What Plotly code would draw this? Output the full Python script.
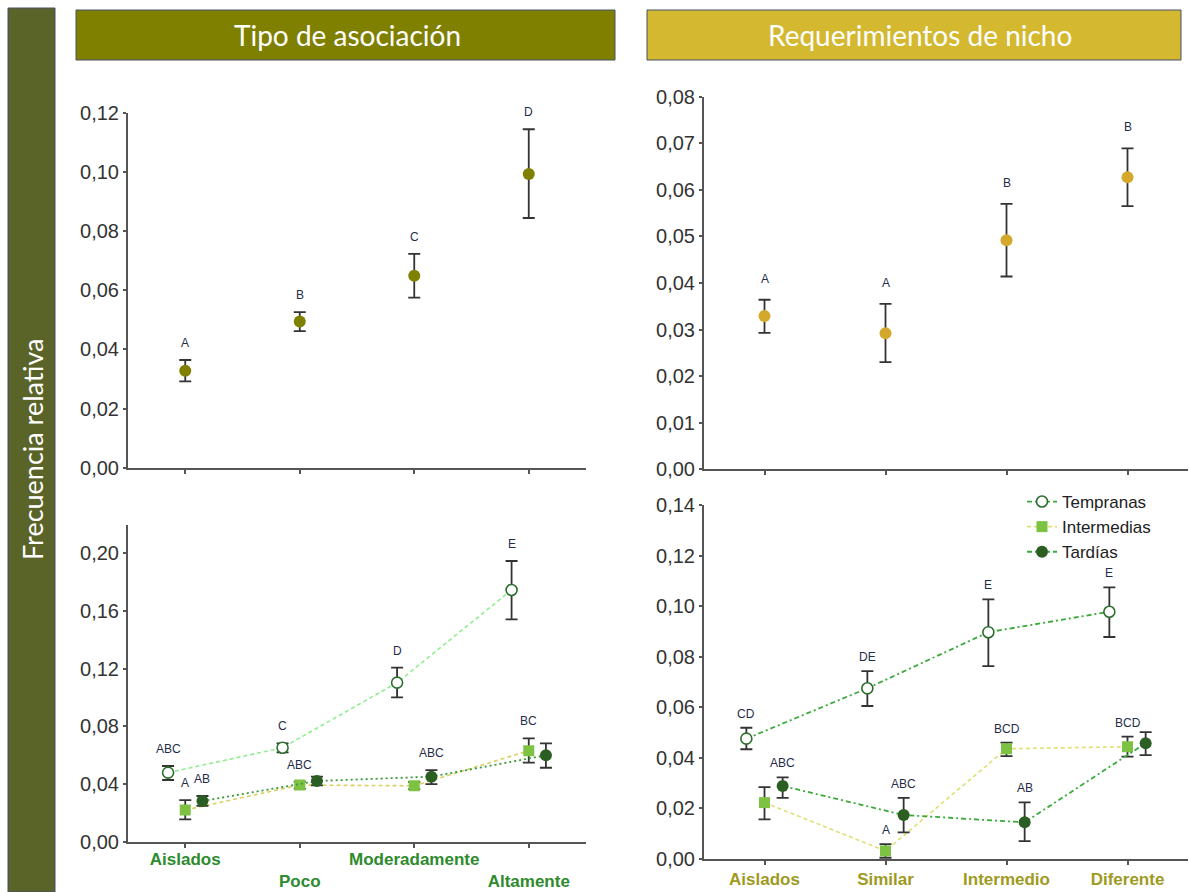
import plotly.graph_objects as go

# ---------------- data ----------------
cat_asoc = ["Aislados", "Poco", "Moderadamente", "Altamente"]
cat_nicho = ["Aislados", "Similar", "Intermedio", "Diferente"]
series_names = ["Tempranas", "Intermedias", "Tardías"]

# Top-left: Tipo de asociación
asoc_mean = [0.0328, 0.0494, 0.0649, 0.0993]
asoc_hi = [0.0364, 0.0526, 0.0723, 0.1144]
asoc_lo = [0.0292, 0.0462, 0.0575, 0.0844]
asoc_letters = ["A", "B", "C", "D"]

# Top-right: Requerimientos de nicho
nicho_mean = [0.0329, 0.0292, 0.0492, 0.0627]
nicho_hi = [0.0364, 0.0355, 0.0570, 0.0689]
nicho_lo = [0.0293, 0.0230, 0.0414, 0.0565]
nicho_letters = ["A", "A", "B", "B"]

# Bottom-left: asociación x periodo
asoc_temp_mean = [0.0479, 0.0652, 0.1103, 0.1746]
asoc_temp_hi = [0.0525, 0.0682, 0.1207, 0.1947]
asoc_temp_lo = [0.0428, 0.0620, 0.1001, 0.1542]
asoc_temp_letters = ["ABC", "C", "D", "E"]

asoc_int_mean = [0.0220, 0.0393, 0.0388, 0.0631]
asoc_int_hi = [0.0289, 0.0416, 0.0414, 0.0717]
asoc_int_lo = [0.0155, 0.0368, 0.0365, 0.0548]
asoc_int_letters = ["A", "ABC", None, "BC"]

asoc_tar_mean = [0.0282, 0.0421, 0.0451, 0.0599]
asoc_tar_hi = [0.0317, 0.0451, 0.0497, 0.0682]
asoc_tar_lo = [0.0248, 0.0391, 0.0400, 0.0513]
asoc_tar_letters = ["AB", None, "ABC", None]

# Bottom-right: nicho x periodo
nicho_temp_mean = [0.0476, 0.0675, 0.0897, 0.0978]
nicho_temp_hi = [0.0519, 0.0743, 0.1027, 0.1074]
nicho_temp_lo = [0.0434, 0.0605, 0.0763, 0.0878]
nicho_temp_letters = ["CD", "DE", "E", "E"]

nicho_int_mean = [0.0223, 0.0032, 0.0436, 0.0444]
nicho_int_hi = [0.0284, 0.0059, 0.0460, 0.0484]
nicho_int_lo = [0.0157, 0.0005, 0.0407, 0.0405]
nicho_int_letters = [None, "A", "BCD", "BCD"]

nicho_tar_mean = [0.0289, 0.0174, 0.0145, 0.0458]
nicho_tar_hi = [0.0323, 0.0242, 0.0224, 0.0502]
nicho_tar_lo = [0.0242, 0.0105, 0.0071, 0.0411]
nicho_tar_letters = ["ABC", "ABC", "AB", None]

# ---------------- style ----------------
W, H = 1189, 892
FONT = "Liberation Sans, Arial, sans-serif"
HEAD_FONT = "Lato, Open Sans, sans-serif"
AXIS_COL = "#555555"
ERR_COL = "#333333"
LETTER_COL = "#1f2d4a"
OFFSETS = [-0.15, 0.0, 0.15]


def px(x):
    return x / W


def py(y):
    return 1 - y / H


fig = go.Figure()
annotations = []


def err(mean, hi, lo):
    return dict(type="data", symmetric=False,
                array=[h - m for h, m in zip(hi, mean)],
                arrayminus=[m - l for m, l in zip(mean, lo)],
                color=ERR_COL, thickness=1.8, width=6)


def add_letters(xs, hi, letters, xa, ya, shift=8):
    for x, h, t in zip(xs, hi, letters):
        if t:
            annotations.append(dict(x=x, y=h, xref=xa, yref=ya, text=t,
                                    showarrow=False, xanchor="center", yanchor="bottom",
                                    yshift=shift,
                                    font=dict(family=FONT, size=12, color=LETTER_COL)))


# Top-left
xs = list(range(len(cat_asoc)))
fig.add_trace(go.Scatter(x=xs, y=asoc_mean, mode="markers", xaxis="x", yaxis="y",
                         marker=dict(color="#7f7f00", size=12), error_y=err(asoc_mean, asoc_hi, asoc_lo),
                         showlegend=False))
add_letters(xs, asoc_hi, asoc_letters, "x", "y")

# Top-right
xs = list(range(len(cat_nicho)))
fig.add_trace(go.Scatter(x=xs, y=nicho_mean, mode="markers", xaxis="x2", yaxis="y2",
                         marker=dict(color="#d4a82a", size=12), error_y=err(nicho_mean, nicho_hi, nicho_lo),
                         showlegend=False))
add_letters(xs, nicho_hi, nicho_letters, "x2", "y2", shift=12)

marker_styles = [
    dict(symbol="circle", color="white", size=11, line=dict(color="#2d6e2d", width=1.6)),
    dict(symbol="square", color="#7dc242", size=11, line=dict(width=0)),
    dict(symbol="circle", color="#2b5e22", size=12, line=dict(width=0)),
]
lines_left = [
    dict(color="#8fef8f", width=1.6, dash="4px,3px"),
    dict(color="#d9d066", width=1.6, dash="4px,3px"),
    dict(color="#3a9a3a", width=1.8, dash="2px,3px"),
]
lines_right = [
    dict(color="#3aaa3a", width=1.8, dash="5px,3px,2px,3px"),
    dict(color="#e0e070", width=1.6, dash="4px,3px"),
    dict(color="#3aaa3a", width=1.8, dash="5px,3px,2px,3px"),
]

left_sets = [
    (asoc_temp_mean, asoc_temp_hi, asoc_temp_lo, asoc_temp_letters),
    (asoc_int_mean, asoc_int_hi, asoc_int_lo, asoc_int_letters),
    (asoc_tar_mean, asoc_tar_hi, asoc_tar_lo, asoc_tar_letters),
]
right_sets = [
    (nicho_temp_mean, nicho_temp_hi, nicho_temp_lo, nicho_temp_letters),
    (nicho_int_mean, nicho_int_hi, nicho_int_lo, nicho_int_letters),
    (nicho_tar_mean, nicho_tar_hi, nicho_tar_lo, nicho_tar_letters),
]

for i, (m, hi, lo, let) in enumerate(left_sets):
    xs = [k + OFFSETS[i] for k in range(len(cat_asoc))]
    fig.add_trace(go.Scatter(x=xs, y=m, mode="lines+markers", xaxis="x3", yaxis="y3",
                             name=series_names[i], line=lines_left[i], marker=marker_styles[i],
                             error_y=err(m, hi, lo), showlegend=False))
    add_letters(xs, hi, let, "x3", "y3")

for i, (m, hi, lo, let) in enumerate(right_sets):
    xs = [k + OFFSETS[i] for k in range(len(cat_nicho))]
    fig.add_trace(go.Scatter(x=xs, y=m, mode="lines+markers", xaxis="x4", yaxis="y4",
                             name=series_names[i], line=lines_right[i], marker=marker_styles[i],
                             error_y=err(m, hi, lo), showlegend=True))
    add_letters(xs, hi, let, "x4", "y4", shift=5)

# ---------------- axes ----------------
xl_dom = [px(128), px(586)]
xr_dom = [px(704), px(1188)]


def xaxis(dom, ytag, labels=None, color="#333", alt=False):
    d = dict(domain=dom, anchor=ytag, range=[-0.5, 3.5], showgrid=False, zeroline=False,
             showline=True, linecolor=AXIS_COL, linewidth=2, ticks="outside", ticklen=4,
             tickcolor=AXIS_COL, tickwidth=1.5, tickvals=[0, 1, 2, 3], fixedrange=True,
             automargin=False)
    if labels is None:
        d["showticklabels"] = False
        d["ticktext"] = ["", "", "", ""]
    else:
        txt = [(" <br>" + t) if (alt and k % 2 == 1) else t for k, t in enumerate(labels)]
        d["ticktext"] = txt
        d["tickfont"] = dict(family=FONT, size=17, color=color, weight="bold")
    return d


def yaxis(dom, xtag, rng, dtick):
    return dict(domain=dom, anchor=xtag, range=rng, showgrid=False, zeroline=False,
                showline=True, linecolor=AXIS_COL, linewidth=2, ticks="outside", ticklen=3,
                tickcolor=AXIS_COL, tickwidth=1.5, dtick=dtick, tick0=0, tickformat=".2f",
                tickfont=dict(family=FONT, size=20, color="#333333"), fixedrange=True,
                automargin=False)


fig.update_layout(
    xaxis=xaxis(xl_dom, "y"),
    yaxis=yaxis([py(467.7), py(112.7)], "x", [0, 0.12], 0.02),
    xaxis2=xaxis(xr_dom, "y2"),
    yaxis2=yaxis([py(469.3), py(96.7)], "x2", [0, 0.08], 0.01),
    xaxis3=xaxis(xl_dom, "y3", cat_asoc, "#2e8b2e", alt=True),
    yaxis3=yaxis([py(841.7), py(524.5)], "x3", [0, 0.22], 0.04),
    xaxis4=xaxis(xr_dom, "y4", cat_nicho, "#9e9a1e"),
    yaxis4=yaxis([py(859), py(505)], "x4", [0, 0.14], 0.02),
)
fig.layout.yaxis3.tickvals = [0, 0.04, 0.08, 0.12, 0.16, 0.20]
fig.layout.xaxis3.ticklabelstandoff = -3

# ---------------- decorations ----------------
shapes = [
    dict(type="rect", xref="paper", yref="paper", x0=px(8), x1=px(55), y0=0, y1=py(8),
         fillcolor="#5a6328", line=dict(color="#46506a", width=1), layer="below"),
    dict(type="rect", xref="paper", yref="paper", x0=px(76), x1=px(615), y0=py(60), y1=py(10),
         fillcolor="#808000", line=dict(color="#46506a", width=1), layer="below"),
    dict(type="rect", xref="paper", yref="paper", x0=px(647), x1=px(1181), y0=py(60), y1=py(10),
         fillcolor="#d3b830", line=dict(color="#46506a", width=1), layer="below"),
]
annotations += [
    dict(x=px(347), y=py(35), xref="paper", yref="paper", text="Tipo de asociación",
         xanchor="center", yanchor="middle",
         showarrow=False, font=dict(family=HEAD_FONT, size=28, color="white")),
    dict(x=px(920), y=py(35), xref="paper", yref="paper", text="Requerimientos de nicho",
         xanchor="center", yanchor="middle",
         showarrow=False, font=dict(family=HEAD_FONT, size=28, color="white")),
    dict(x=px(32), y=py(450), xref="paper", yref="paper", text="Frecuencia relativa",
         xanchor="center", yanchor="middle",
         showarrow=False, textangle=-90, font=dict(family=HEAD_FONT, size=27, color="white")),
]

fig.update_layout(
    width=W, height=H, margin=dict(l=0, r=0, t=0, b=0, pad=0, autoexpand=False),
    paper_bgcolor="white", plot_bgcolor="white",
    separators=",.",
    shapes=shapes, annotations=annotations,
    showlegend=True,
    legend=dict(x=px(1022), y=py(484), xanchor="left", yanchor="top",
                font=dict(family=FONT, size=17, color="#222222"),
                bgcolor="rgba(0,0,0,0)", tracegroupgap=0, itemwidth=30),
    font=dict(family=FONT),
)

fig.write_html("out.html", config={"displayModeBar": False},
               post_script="document.body.style.margin='0';document.body.style.overflow='hidden';")
